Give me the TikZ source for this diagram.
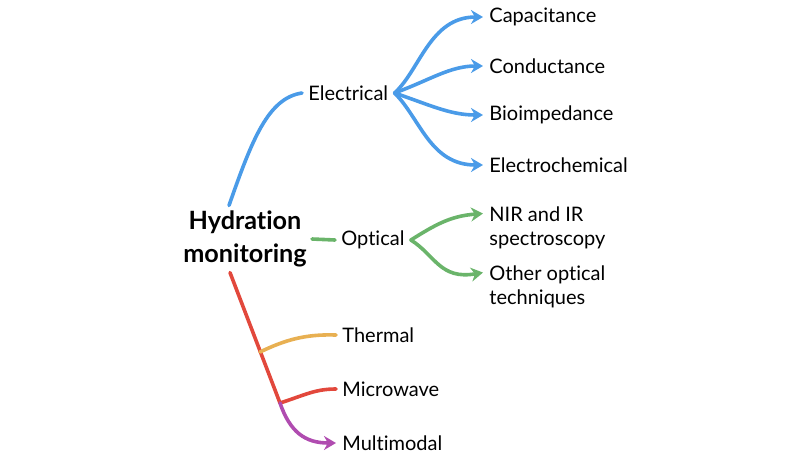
\documentclass[tikz,border=0pt]{standalone}
\usepackage{fontspec}
\setmainfont{Lato}[RawFeature={-liga;-clig;-calt;-dlig}]
\usetikzlibrary{positioning, arrows.meta}

\definecolor{elecblue}{RGB}{74,155,232}
\definecolor{optgreen}{RGB}{106,180,106}
\definecolor{trunkred}{RGB}{226,72,60}
\definecolor{thermorange}{RGB}{232,176,82}
\definecolor{multipurple}{RGB}{176,76,176}

\begin{document}
\begin{tikzpicture}[
        x=0.5pt, y=-0.5pt,
        % Nodo centrale
        root/.style={
            align=center,
            inner sep=2.5pt,
            font=\bfseries\fontsize{12.6}{16.5}\selectfont
        },
        % Etichette dei rami
        leaf/.style={
            anchor=west,
            align=left,
            inner sep=3pt,
            font=\fontsize{10}{12}\selectfont
        },
        % Linee dei rami
        branch/.style={line width=1.8pt, line cap=round},
        >={Stealth[length=6pt, width=7pt]},
    ]

    \useasboundingbox (0,0) rectangle (800,457);

    \node[root] (hydr) at (245,239) {Hydration\\monitoring};

    % Primo livello
    \node[leaf] (elec) at (302,93) {Electrical};
    \node[leaf] (opt) at (335,240) {Optical};
    \node[leaf] (therm) at (336,335) {Thermal};
    \node[leaf] (micro) at (336,389) {Microwave};
    \node[leaf] (multi) at (336,443) {Multimodal};

    % Secondo livello
    \node[leaf] (cap) at (483,17) {Capacitance};
    \node[leaf] (cond) at (483,66) {Conductance};
    \node[leaf] (bioimp) at (483,115) {Bioimpedance};
    \node[leaf] (echem) at (483,165) {Electrochemical};
    \node[leaf] (nir) at (483,228) {NIR and IR\\spectroscopy};
    \node[leaf] (otheropt) at (483,287) {Other optical\\techniques};

    % Punti di diramazione
    \coordinate (mw-fork) at (280,403);
    \coordinate (th-fork) at (260,352);

    % Elettrico
    \draw[branch, elecblue] ([xshift=-8pt]hydr.north) .. controls (252,140) and (268,98) .. (elec.west);
    \draw[branch, elecblue, ->] (elec.east) .. controls (420,70) and (430,17) .. (cap.west);
    \draw[branch, elecblue, ->] (elec.east) .. controls (430,80) and (450,66) .. (cond.west);
    \draw[branch, elecblue, ->] (elec.east) .. controls (430,105) and (450,115) .. (bioimp.west);
    \draw[branch, elecblue, ->] (elec.east) .. controls (420,118) and (430,165) .. (echem.west);

    % Ottico
    \draw[branch, optgreen] (hydr.east) -- (opt.west);
    \draw[branch, optgreen, ->] (opt.east) .. controls (435,225) and (450,216) .. ([yshift=-6.5pt]nir.north west);
    \draw[branch, optgreen, ->] (opt.east) .. controls (435,255) and (440,280) .. ([yshift=-6.5pt]otheropt.north west);

    % Tronco inferiore
    \draw[branch, trunkred] ([xshift=-7.5pt]hydr.south) -- (mw-fork);
    \draw[branch, thermorange] (th-fork) .. controls (285,340) and (305,334) .. (therm.west);
    \draw[branch, trunkred] (mw-fork) .. controls (305,395) and (315,389) .. (micro.west);
    \draw[branch, multipurple, ->] (mw-fork) .. controls (290,432) and (305,443) .. (multi.west);

\end{tikzpicture}
\end{document}
